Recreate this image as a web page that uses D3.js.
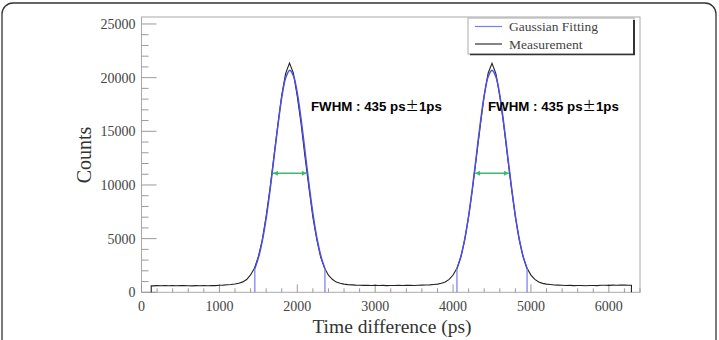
<!DOCTYPE html>
<html><head><meta charset="utf-8">
<script src="https://cdn.jsdelivr.net/npm/d3@7"></script>
<style>body{margin:0;background:#fff}svg{display:block}</style>
</head><body>
<svg id="c" width="719" height="340"></svg>
<script>
// ---- data ----
const xTicksMajor = [0, 1000, 2000, 3000, 4000, 5000, 6000];
const yTicksMajor = [0, 5000, 10000, 15000, 20000, 25000];
const binStart = 150, binWidth = 50;           // measurement bin centres (ps)
const measEdges = [125, 6290];                  // histogram start / end (ps)
const measCounts = [
 600,625,610,640,615,630,605,620,640,610,595,620,605,630,615,640,625,660,670,700,
 725,770,840,970,1190,1620,2240,3310,4870,7080,9660,12640,15550,18350,20380,21350,20420,18260,15640,12560,
 9730,7010,4920,3280,2260,1590,1210,950,835,765,715,690,670,660,645,655,635,650,630,645,
 625,640,630,650,635,645,650,640,655,665,680,690,725,760,835,965,1205,1610,2250,3290,
 4910,7060,9690,12620,15580,18320,20410,21330,20380,18290,15620,12580,9710,7030,4890,3300,2240,1600,1200,955,
 830,760,720,685,665,650,630,645,625,640,630,615,635,640,625,650,660,645,670,655,
 680,665,650
];
const fitStep = 50;
const fitRanges = [[1455, 2355], [4050, 4950]];
const fitCounts1 = [2200,3320,4948,7126,9802,12791,15772,18338,20081,20700,20081,18338,15772,12791,9802,7126,4948,3320,2200];
const fitCounts2 = [2200,3320,4948,7126,9802,12791,15772,18338,20081,20700,20081,18338,15772,12791,9802,7126,4948,3320,2200];
const fwhmCentres = [1905, 4500];
const fwhmWidth = 435;
const fwhmLevel = 11100;
const fwhmLabel = "FWHM : 435 ps";
const legendLabels = ["Gaussian Fitting", "Measurement"];
const xTitle = "Time difference (ps)";
const yTitle = "Counts";

// ---- layout ----
const svg = d3.select("#c");
const L = 141.5, R = 640, T = 17, B = 292.3;
const x = d3.scaleLinear().domain([0, 6400]).range([L, R]);
const y = d3.scaleLinear().domain([0, 25650]).range([B, T]);
const serif = "'Liberation Serif','Times New Roman',serif";

// outer rounded frame
svg.append("rect").attr("x", 2).attr("y", 3).attr("width", 714).attr("height", 360)
  .attr("rx", 11).attr("fill", "none").attr("stroke", "#333").attr("stroke-width", 1.3);

// plot frame
svg.append("rect").attr("x", L).attr("y", T).attr("width", R - L).attr("height", B - T)
  .attr("fill", "none").attr("stroke", "#aaa").attr("stroke-width", 1);

// y ticks
const yMinor = d3.range(0, 25001, 1000);
svg.append("g").selectAll("line").data(yMinor).join("line")
  .attr("x1", L).attr("x2", d => L + (d % 5000 === 0 ? 15 : 7))
  .attr("y1", d => y(d)).attr("y2", d => y(d))
  .attr("stroke", "#999").attr("stroke-width", 1);
svg.append("g").selectAll("text").data(yTicksMajor).join("text")
  .attr("x", L - 6).attr("y", d => y(d)).attr("dy", "0.35em")
  .attr("text-anchor", "end").attr("font-family", serif).attr("font-size", 14)
  .attr("fill", "#444").text(d => d);

// x ticks
const xMinor = d3.range(0, 6401, 200);
svg.append("g").selectAll("line").data(xMinor).join("line")
  .attr("x1", d => x(d)).attr("x2", d => x(d))
  .attr("y1", B).attr("y2", d => B - (d % 1000 === 0 ? 8 : 4))
  .attr("stroke", "#999").attr("stroke-width", 1);
svg.append("g").selectAll("text").data(xTicksMajor).join("text")
  .attr("x", d => x(d)).attr("y", 311)
  .attr("text-anchor", "middle").attr("font-family", serif).attr("font-size", 14)
  .attr("fill", "#444").text(d => d);

// titles
svg.append("text").attr("x", 392).attr("y", 333).attr("text-anchor", "middle")
  .attr("font-family", serif).attr("font-size", 19.5).attr("fill", "#333").text(xTitle);
svg.append("text").attr("transform", "translate(91,155) rotate(-90)").attr("text-anchor", "middle")
  .attr("font-family", serif).attr("font-size", 20).attr("fill", "#333").text(yTitle);

// measurement
const measPts = [[measEdges[0], 0], [measEdges[0], measCounts[0]]];
measCounts.forEach((c, i) => measPts.push([binStart + i * binWidth, c]));
measPts.push([measEdges[1], measCounts[measCounts.length - 1]]);
measPts.push([measEdges[1], 0]);
svg.append("path").attr("d", d3.line().x(d => x(d[0])).y(d => y(d[1]))(measPts))
  .attr("fill", "none").attr("stroke", "#222").attr("stroke-width", 1.1);

// gaussian fits
const fitBlue = "#4d4de8";
[fitCounts1, fitCounts2].forEach((fc, k) => {
  const t0 = fitRanges[k][0];
  const pts = fc.map((c, i) => [t0 + i * fitStep, c]);
  svg.append("path").attr("d", d3.line().curve(d3.curveCatmullRom).x(d => x(d[0])).y(d => y(d[1]))(pts))
    .attr("fill", "none").attr("stroke", fitBlue).attr("stroke-width", 1.5);
  [pts[0], pts[pts.length - 1]].forEach(p => {
    svg.append("line").attr("x1", x(p[0])).attr("x2", x(p[0])).attr("y1", B).attr("y2", y(p[1]))
      .attr("stroke", "#7878f0").attr("stroke-width", 1.2);
  });
});

// FWHM arrows
const green = "#3dbb6a";
fwhmCentres.forEach(c => {
  const x1 = x(c - fwhmWidth / 2), x2 = x(c + fwhmWidth / 2), yy = y(fwhmLevel);
  svg.append("line").attr("x1", x1).attr("x2", x2).attr("y1", yy).attr("y2", yy)
    .attr("stroke", green).attr("stroke-width", 1.5);
  svg.append("path").attr("d", `M${x1},${yy}l5,-2.5l0,5z M${x2},${yy}l-5,-2.5l0,5z`).attr("fill", green);
});

// FWHM labels
const labelX = [311, 488];
labelX.forEach(lx => {
  const t = svg.append("text").attr("x", lx).attr("y", 111)
    .attr("font-family", "'Liberation Sans',Arial,sans-serif").attr("font-weight", "bold")
    .attr("font-size", 13.3).attr("fill", "#000");
  t.append("tspan").text(fwhmLabel);
  t.append("tspan").attr("font-family", "'Noto Sans CJK JP'").attr("font-weight", "normal").text("±");
  t.append("tspan").text("1ps");
});

// legend
const lg = svg.append("g");
lg.append("rect").attr("x", 468).attr("y", 18).attr("width", 166).attr("height", 36)
  .attr("fill", "#fff").attr("stroke", "#aaa").attr("stroke-width", 1);
lg.append("line").attr("x1", 634).attr("x2", 634).attr("y1", 20).attr("y2", 55)
  .attr("stroke", "#333").attr("stroke-width", 2);
lg.append("line").attr("x1", 470).attr("x2", 635).attr("y1", 54.5).attr("y2", 54.5)
  .attr("stroke", "#333").attr("stroke-width", 1.5);
const lgColors = ["#7b7bf5", "#333"];
legendLabels.forEach((s, i) => {
  const yy = 26.5 + i * 17.5;
  lg.append("line").attr("x1", 475).attr("x2", 502).attr("y1", yy).attr("y2", yy)
    .attr("stroke", lgColors[i]).attr("stroke-width", 1.2);
  lg.append("text").attr("x", 509).attr("y", yy).attr("dy", "0.35em")
    .attr("font-family", serif).attr("font-size", 13.5).attr("fill", "#444").text(s);
});
</script>
</body></html>
